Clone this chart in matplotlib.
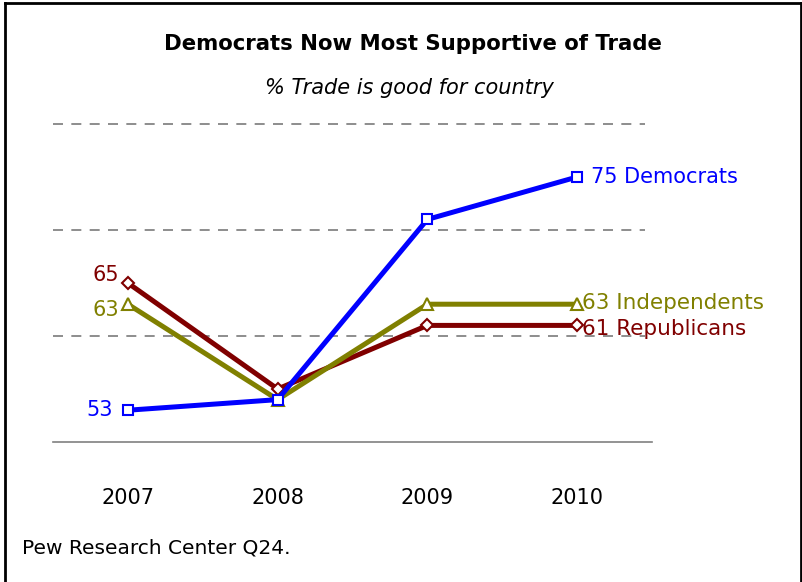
import matplotlib
matplotlib.use('Agg')
import matplotlib.pyplot as plt
from matplotlib import font_manager

years = ['2007', '2008', '2009', '2010']
democrats = [53, 54, 71, 75]
republicans = [65, 55, 61, 61]
independents = [63, 54, 63, 63]

names = [f.name for f in font_manager.fontManager.ttflist]
police = 'Liberation Sans Narrow' if 'Liberation Sans Narrow' in names else 'DejaVu Sans'
plt.rcParams['font.family'] = [police, 'DejaVu Sans']

fig = plt.figure(figsize=(8.03, 5.82), dpi=100)
ax = fig.add_axes([0.066, 0.2405, 0.746, 0.5465])

x = range(len(years))
bleu, rouge, olive = '#0000ff', '#800000', '#808000'

ax.plot(x, republicans, color=rouge, lw=3.6, marker='D', ms=6.5, mfc='white', mec=rouge, mew=1.5, zorder=3)
ax.plot(x, independents, color=olive, lw=3.6, marker='^', ms=9, mfc='white', mec=olive, mew=1.5, zorder=4)
ax.plot(x, democrats, color=bleu, lw=3.6, marker='s', ms=7.5, mfc='white', mec=bleu, mew=1.5, zorder=5)

ax.set_xlim(-0.5, 3.5)
ax.set_ylim(50, 80)
for g in [60, 70, 80]:
    ax.plot([-0.5, 3.45], [g, g], color='#7a7a7a', lw=1.2, ls=(0, (6, 5)), zorder=1, clip_on=False)
for s in ['top', 'right', 'left']:
    ax.spines[s].set_visible(False)
ax.spines['bottom'].set_color('#808080')
ax.spines['bottom'].set_linewidth(1.2)
ax.set_yticks([])
ax.set_xticks(list(x))
ax.set_xticklabels(years, fontsize=15)
ax.tick_params(axis='x', length=0, pad=33)

# etiquettes des valeurs
ax.text(3.09, democrats[3], f'{democrats[3]} Democrats', color=bleu, fontsize=15, va='center')
ax.text(3.03, independents[3] + 0.1, f'{independents[3]} Independents', color=olive, fontsize=15.5, va='center')
ax.text(3.03, republicans[3] - 0.35, f'{republicans[3]} Republicans', color=rouge, fontsize=15.5, va='center')
ax.text(-0.06, republicans[0] + 0.8, str(republicans[0]), color=rouge, fontsize=15, va='center', ha='right')
ax.text(-0.06, independents[0] - 0.5, str(independents[0]), color=olive, fontsize=15, va='center', ha='right')
ax.text(-0.1, democrats[0], str(democrats[0]), color=bleu, fontsize=15, va='center', ha='right')

fig.text(0.514, 1 - 44 / 582, 'Democrats Now Most Supportive of Trade', ha='center', va='center',
         fontsize=15.3, fontweight='bold')
fig.text(0.51, 1 - 88 / 582, '% Trade is good for country', ha='center', va='center',
         fontsize=15, style='italic')
fig.text(22 / 803, 1 - 548 / 582, 'Pew Research Center Q24.', ha='left', va='center', fontsize=14.5)

# cadre
fig.add_artist(plt.Line2D([0.006, 0.006], [0, 0.994], color='black', lw=2))
fig.add_artist(plt.Line2D([0.006, 0.997], [0.994, 0.994], color='black', lw=2))
fig.add_artist(plt.Line2D([0.997, 0.997], [0, 0.994], color='black', lw=2))

fig.savefig('out.png', dpi=100)
